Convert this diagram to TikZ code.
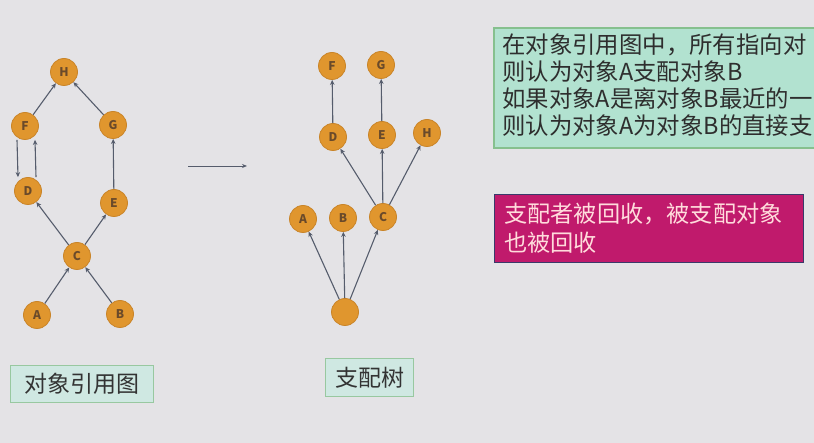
\documentclass[tikz,border=0pt]{standalone}
\usepackage{fontspec}
\setmainfont{Noto Sans CJK SC}
\usetikzlibrary{arrows.meta}
\definecolor{bg}{HTML}{E4E3E6}
\definecolor{nodefill}{HTML}{E0962E}
\definecolor{nodeedge}{HTML}{C98428}
\definecolor{nodetext}{HTML}{6A4A2A}
\definecolor{edgecol}{HTML}{555C6C}
\definecolor{greenfill}{HTML}{B2E2D0}
\definecolor{greenedge}{HTML}{86C08E}
\definecolor{magfill}{HTML}{C01A6C}
\definecolor{magedge}{HTML}{3A3A6A}
\definecolor{labfill}{HTML}{CFE8E2}
\definecolor{labedge}{HTML}{98C8A0}
\tikzset{
  obj/.style={circle,fill=nodefill,draw=nodeedge,line width=0.8pt,minimum size=27pt,inner sep=0pt,
    font=\fontsize{12}{12}\selectfont\bfseries,text=nodetext},
  ref/.style={-{Stealth[length=5pt,width=4.5pt]},draw=edgecol,line width=1.1pt},
  caption/.style={fill=labfill,draw=labedge,line width=1.2pt,inner xsep=6pt,inner ysep=3pt,
    font=\fontsize{23}{23}\selectfont,text=black!80},
  gtext/.style={anchor=west,inner sep=0pt,font=\fontsize{23.4}{23.4}\selectfont,text=black!82},
  mtext/.style={anchor=west,inner sep=0pt,font=\fontsize{23.2}{23.2}\selectfont,text=pink!55!white}
}
\begin{document}
\begin{tikzpicture}[x=1pt,y=-1pt]
\clip (0,0) rectangle (814,443);
\fill[bg] (0,0) rectangle (814,443);
% left graph
\node[obj] (H) at (64,72) {H};
\node[obj] (F) at (25,126) {F};
\node[obj] (G) at (113,125) {G};
\node[obj] (D) at (28,191) {D};
\node[obj] (E) at (114,203) {E};
\node[obj] (C) at (77,256) {C};
\node[obj] (A) at (37,315) {A};
\node[obj] (B) at (120,314) {B};
\draw[ref] (A) -- (C);
\draw[ref] (B) -- (C);
\draw[ref] (C) -- (D);
\draw[ref] (C) -- (E);
\draw[ref] (E) -- (G);
\draw[ref] (G) -- (H);
\draw[ref] (F) -- (H);
\draw[ref] ([xshift=-8pt]F.south) -- ([xshift=-10pt]D.north);
\draw[ref] ([xshift=8pt]D.north) -- ([xshift=10pt]F.south);
% middle arrow
\coordinate (m1) at (188,166);
\coordinate (m2) at (247,166);
\draw[-{Stealth[length=5pt,width=4pt]},draw=edgecol,line width=0.9pt] (m1) -- (m2);
% right tree
\node[obj] (tF) at (332,66) {F};
\node[obj] (tG) at (381,65) {G};
\node[obj] (tD) at (333,137) {D};
\node[obj] (tE) at (382,135) {E};
\node[obj] (tH) at (427,133) {H};
\node[obj] (tA) at (303,219) {A};
\node[obj] (tB) at (343,218) {B};
\node[obj] (tC) at (383,217) {C};
\node[obj] (root) at (345,312) {};
\draw[ref] (root) -- (tA);
\draw[ref] (root) -- (tB);
\draw[ref] (root) -- (tC);
\draw[ref] (tC) -- (tD);
\draw[ref] (tC) -- (tE);
\draw[ref] (tC) -- (tH);
\draw[ref] (tD) -- (tF);
\draw[ref] (tE) -- (tG);
% green box
\node[draw=greenedge,fill=greenfill,line width=2pt,minimum width=340pt,minimum height=120pt,anchor=north west,inner sep=0pt] (gbox) at (493,27) {};
\node[gtext] (g1) at (502,45) {在对象引用图中，所有指向对};
\node[gtext] (g2) at (502,72) {则认为对象A支配对象B};
\node[gtext] (g3) at (502,99) {如果对象A是离对象B最近的一};
\node[gtext] (g4) at (502,126) {则认为对象A为对象B的直接支};
% magenta box
\node[draw=magedge,fill=magfill,line width=1.2pt,minimum width=309pt,minimum height=68pt,anchor=north west,inner sep=0pt] (mbox) at (494,194) {};
\node[mtext] (m1t) at (504,214) {支配者被回收，被支配对象};
\node[mtext] (m2t) at (504,243) {也被回收};
% captions
\node[caption,anchor=north west,minimum width=143pt,minimum height=37pt] (cap1) at (10,365) {对象引用图};
\node[caption,anchor=north west,minimum width=88pt,minimum height=38pt] (cap2) at (325,358) {支配树};
\end{tikzpicture}
\end{document}
